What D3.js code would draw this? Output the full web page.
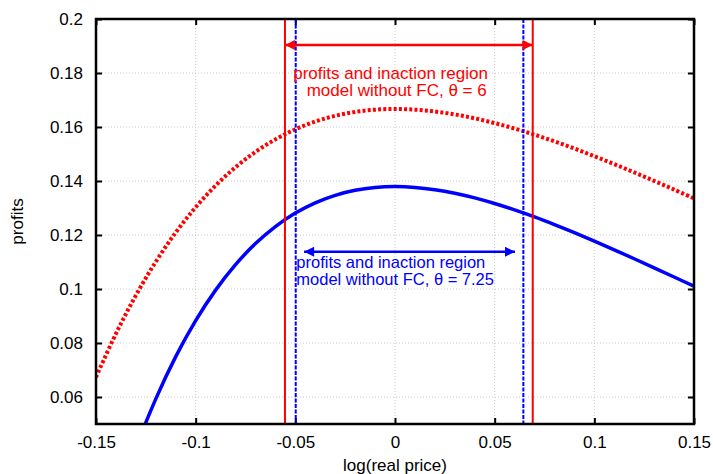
<!DOCTYPE html>
<html><head><meta charset="utf-8">
<script src="https://cdn.jsdelivr.net/npm/d3@7"></script>
<style>
body{margin:0;background:#fff;}
text{font-family:"Liberation Sans",Arial,sans-serif;}
</style></head>
<body>
<svg id="c" width="713" height="474"></svg>
<script>
// ---- data ----
const prices = [-0.15,-0.14,-0.13,-0.12,-0.11,-0.10,-0.09,-0.08,-0.07,-0.06,-0.05,-0.04,-0.03,-0.02,-0.01,0,
  0.01,0.02,0.03,0.04,0.05,0.06,0.07,0.08,0.09,0.10,0.11,0.12,0.13,0.14,0.15];
const profitsTheta6 = [0.06733,0.08345,0.09765,0.11009,0.12093,0.13029,0.13831,0.14510,0.15077,0.15542,0.15914,
  0.16203,0.16415,0.16559,0.16641,0.16667,0.16643,0.16574,0.16465,0.16321,0.16145,0.15942,0.15715,0.15467,
  0.15201,0.14919,0.14624,0.14319,0.14004,0.13683,0.13356];
const profitsTheta725 = [-0.00399,0.02010,0.04113,0.05932,0.07496,0.08831,0.09959,0.10903,0.11682,0.12313,0.12812,
  0.13193,0.13470,0.13656,0.13760,0.13793,0.13763,0.13679,0.13548,0.13375,0.13167,0.12930,0.12669,0.12386,
  0.12087,0.11774,0.11451,0.11120,0.10784,0.10445,0.10103];
const inactionTheta6 = [-0.0552, 0.0691];
const inactionTheta725 = [-0.0498, 0.0644];
const xTickValues = [-0.15,-0.1,-0.05,0,0.05,0.1,0.15];
const xTickLabels = ["-0.15","-0.1","-0.05","0","0.05","0.1","0.15"];
const yTickValues = [0.06,0.08,0.1,0.12,0.14,0.16,0.18,0.2];
const yTickLabels = ["0.06","0.08","0.1","0.12","0.14","0.16","0.18","0.2"];

// ---- layout ----
const W=713,H=474, m={l:96,r:19,t:19,b:50};
const svg=d3.select("#c");
const x=d3.scaleLinear().domain([-0.15,0.15]).range([m.l,W-m.r]);
const y=d3.scaleLinear().domain([0.05,0.2]).range([H-m.b,m.t]);
const RED="#ff0000", BLUE="#0000ff";

const defs=svg.append("defs");
defs.append("clipPath").attr("id","clip").append("rect")
  .attr("x",m.l).attr("y",m.t).attr("width",W-m.l-m.r).attr("height",H-m.t-m.b);
function marker(id,color){
  defs.append("marker").attr("id",id).attr("viewBox","0 0 10 10").attr("refX",10).attr("refY",5)
   .attr("markerWidth",5).attr("markerHeight",4).attr("markerUnits","strokeWidth").attr("orient","auto-start-reverse")
   .append("path").attr("d","M0,0L10,5L0,10z").attr("fill",color);
}
marker("ar","red"); marker("ab","blue");

// grid
const g=svg.append("g");
g.selectAll(".gx").data(xTickValues.slice(1,-1)).join("line")
  .attr("x1",d=>x(d)).attr("x2",d=>x(d)).attr("y1",m.t).attr("y2",H-m.b)
  .attr("stroke","#c8c8c8").attr("stroke-width",1).attr("stroke-dasharray","1,2");
g.selectAll(".gy").data(yTickValues.filter(v=>v<0.2)).join("line")
  .attr("x1",m.l).attr("x2",W-m.r).attr("y1",d=>y(d)).attr("y2",d=>y(d))
  .attr("stroke","#c8c8c8").attr("stroke-width",1).attr("stroke-dasharray","1,2");

// axes (ticks inward, mirrored)
const fmtX=(d)=>xTickLabels[xTickValues.indexOf(d)];
const fmtY=(d)=>yTickLabels[yTickValues.indexOf(d)];
const axB=svg.append("g").attr("transform",`translate(0,${H-m.b})`)
  .call(d3.axisBottom(x).tickValues(xTickValues).tickFormat(fmtX).tickSizeInner(-6).tickSizeOuter(0).tickPadding(12));
const axT=svg.append("g").attr("transform",`translate(0,${m.t})`)
  .call(d3.axisTop(x).tickValues(xTickValues).tickFormat("").tickSizeInner(-6).tickSizeOuter(0));
const axL=svg.append("g").attr("transform",`translate(${m.l},0)`)
  .call(d3.axisLeft(y).tickValues(yTickValues).tickFormat(fmtY).tickSizeInner(-6).tickSizeOuter(0).tickPadding(13));
const axR=svg.append("g").attr("transform",`translate(${W-m.r},0)`)
  .call(d3.axisRight(y).tickValues(yTickValues).tickFormat("").tickSizeInner(-6).tickSizeOuter(0));
[axB,axT,axL,axR].forEach(a=>{
  a.select(".domain").remove();
  a.selectAll(".tick line").attr("stroke","#000").attr("stroke-width",2);
  a.selectAll(".tick text").attr("font-size",17).attr("fill","#000").attr("font-family","Liberation Sans, Arial, sans-serif");
});

// curves
const line=d3.line().x((d,i)=>x(prices[i])).y(d=>y(d)).curve(d3.curveCatmullRom);
const plot=svg.append("g").attr("clip-path","url(#clip)");
plot.append("path").datum(profitsTheta725).attr("d",line).attr("fill","none")
  .attr("stroke",BLUE).attr("stroke-width",3.5);
plot.append("path").datum(profitsTheta6).attr("d",line).attr("fill","none")
  .attr("stroke",RED).attr("stroke-width",4).attr("stroke-dasharray","3,2.2");

// inaction bounds
svg.selectAll(".vr").data(inactionTheta6).join("line")
  .attr("x1",d=>x(d)).attr("x2",d=>x(d)).attr("y1",m.t).attr("y2",H-m.b)
  .attr("stroke",RED).attr("stroke-width",2);
svg.selectAll(".vb").data(inactionTheta725).join("line")
  .attr("x1",d=>x(d)).attr("x2",d=>x(d)).attr("y1",m.t).attr("y2",H-m.b)
  .attr("stroke",BLUE).attr("stroke-width",2).attr("stroke-dasharray","4,1.5");

// arrows
svg.append("line").attr("x1",x(inactionTheta6[0])).attr("x2",x(inactionTheta6[1]))
  .attr("y1",y(0.1904)).attr("y2",y(0.1904)).attr("stroke",RED).attr("stroke-width",2.5)
  .attr("marker-start","url(#ar)").attr("marker-end","url(#ar)");
svg.append("line").attr("x1",x(-0.0456)).attr("x2",x(0.0602))
  .attr("y1",y(0.1138)).attr("y2",y(0.1138)).attr("stroke",BLUE).attr("stroke-width",2.5)
  .attr("marker-start","url(#ab)").attr("marker-end","url(#ab)");

// labels
const tr=svg.append("text").attr("fill",RED).attr("font-size",17).attr("text-anchor","end");
tr.append("tspan").attr("x",x(0.0466)).attr("y",78.5).text("profits and inaction region");
tr.append("tspan").attr("x",x(0.0460)).attr("y",96).text("model without FC, θ = 6");
const tb=svg.append("text").attr("fill",BLUE).attr("font-size",16.5).attr("text-anchor","start");
tb.append("tspan").attr("x",x(-0.0495)).attr("y",268).text("profits and inaction region");
tb.append("tspan").attr("x",x(-0.0495)).attr("y",285).text("model without FC, θ = 7.25");

// border
svg.append("rect").attr("x",m.l).attr("y",m.t).attr("width",W-m.l-m.r).attr("height",H-m.t-m.b)
  .attr("fill","none").attr("stroke","#000").attr("stroke-width",2.5);

// axis titles
svg.append("text").attr("x",(m.l+W-m.r)/2).attr("y",471).attr("text-anchor","middle")
  .attr("font-size",17).text("log(real price)");
svg.append("text").attr("transform",`translate(23,${(m.t+H-m.b)/2}) rotate(-90)`).attr("text-anchor","middle")
  .attr("font-size",17).text("profits");
</script>
</body></html>
